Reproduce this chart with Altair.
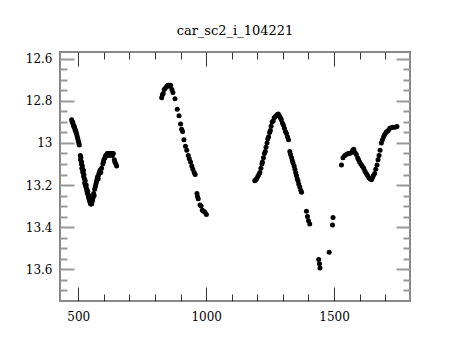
import altair as alt
import pandas as pd

# ---- data ----
seg1_t = [474, 476, 478, 480, 482, 484, 486, 488, 490, 492, 494, 496, 498, 500, 502, 504,
          508, 509, 510, 512, 513, 514, 516, 517, 518, 520, 521, 522, 524, 525, 527, 528,
          530, 531, 533, 534, 536, 537, 539, 540, 542, 543, 545, 546, 548, 550, 552, 554,
          556, 558, 560, 562, 564, 566, 568, 570, 572, 574, 576, 578, 580, 582, 585, 588,
          591, 596, 598, 600, 604, 607, 610, 613, 616, 620, 623, 626, 630, 633, 637, 641,
          643, 647, 650]
seg1_m = [12.89, 12.90, 12.90, 12.91, 12.92, 12.92, 12.93, 12.94, 12.94, 12.95, 12.96, 12.97, 12.98, 12.99, 13.00, 13.01,
          13.06, 13.08, 13.07, 13.10, 13.09, 13.12, 13.11, 13.13, 13.14, 13.13, 13.16, 13.15, 13.17, 13.19, 13.18, 13.20,
          13.21, 13.20, 13.22, 13.23, 13.24, 13.23, 13.25, 13.26, 13.25, 13.27, 13.28, 13.27, 13.29, 13.28, 13.29, 13.28,
          13.27, 13.26, 13.24, 13.25, 13.22, 13.21, 13.20, 13.19, 13.18, 13.17, 13.16, 13.17, 13.15, 13.14, 13.13, 13.14,
          13.12, 13.10, 13.09, 13.08, 13.07, 13.06, 13.06, 13.05, 13.05, 13.06, 13.05, 13.05, 13.05, 13.06, 13.05, 13.08,
          13.09, 13.10, 13.11]

seg2_t = [826, 829, 832, 836, 840, 846, 851, 856, 861, 866, 870, 878, 887, 894, 900, 904, 908,
          913, 919, 924, 930, 934, 939, 944, 948, 953, 957, 964, 966, 969, 976, 980, 985, 990,
          995, 1001]
seg2_m = [12.785, 12.77, 12.765, 12.745, 12.74, 12.73, 12.725, 12.73, 12.725, 12.745, 12.76, 12.79,
          12.84, 12.87, 12.91, 12.935, 12.945, 12.985, 13.015, 13.035, 13.06, 13.075, 13.09, 13.11,
          13.125, 13.14, 13.15, 13.24, 13.255, 13.265, 13.295, 13.30, 13.32, 13.325, 13.33, 13.34]

seg3_t = [1190, 1194, 1197, 1202, 1206, 1210, 1214, 1218, 1220, 1224, 1228, 1231, 1234, 1238,
          1241, 1244, 1248, 1251, 1254, 1258, 1262, 1266, 1270, 1274, 1278, 1282, 1286, 1290,
          1294, 1298, 1302, 1306, 1310, 1314, 1318, 1322,
          1327, 1330, 1334, 1337, 1340, 1344, 1347, 1350, 1353, 1356, 1359, 1362, 1366, 1370, 1373,
          1392, 1396, 1400, 1405, 1440, 1443, 1445, 1481, 1494, 1496]
seg3_m = [13.18, 13.175, 13.17, 13.16, 13.15, 13.14, 13.12, 13.10, 13.09, 13.07, 13.05, 13.04, 13.02, 13.00,
          12.98, 12.97, 12.95, 12.94, 12.92, 12.90, 12.895, 12.88, 12.875, 12.87, 12.865, 12.862, 12.87, 12.88,
          12.89, 12.905, 12.915, 12.93, 12.945, 12.955, 12.97, 12.985,
          13.04, 13.055, 13.07, 13.085, 13.095, 13.11, 13.125, 13.14, 13.155, 13.17, 13.18, 13.195, 13.21, 13.225, 13.235,
          13.325, 13.35, 13.37, 13.385, 13.555, 13.575, 13.595, 13.52, 13.39, 13.355]

seg4_t = [1529, 1535, 1542, 1548, 1555, 1561, 1568, 1573, 1577, 1582, 1587, 1592, 1596, 1600, 1605,
          1610, 1616, 1621, 1626, 1631, 1636, 1641, 1646, 1650, 1654, 1659, 1663, 1668, 1672, 1676,
          1680, 1685, 1689, 1694, 1698, 1703, 1707, 1712, 1718, 1724, 1730, 1738, 1746]
seg4_m = [13.105, 13.07, 13.06, 13.055, 13.05, 13.05, 13.045, 13.035, 13.03, 13.045, 13.055, 13.07, 13.08,
          13.09, 13.10, 13.11, 13.12, 13.135, 13.145, 13.155, 13.165, 13.17, 13.175, 13.165, 13.155, 13.145,
          13.125, 13.105, 13.08, 13.06, 13.035, 13.00, 12.985, 12.97, 12.96, 12.95, 12.945, 12.94, 12.93,
          12.927, 12.925, 12.925, 12.922]

x_labels = [500, 1000, 1500]
x_ticks = [500, 600, 700, 800, 900, 1000, 1100, 1200, 1300, 1400, 1500, 1600, 1700]
y_labels = [12.6, 12.8, 13.0, 13.2, 13.4, 13.6]
y_ticks = [12.6, 12.65, 12.7, 12.75, 12.8, 12.85, 12.9, 12.95, 13.0, 13.05, 13.1, 13.15,
           13.2, 13.25, 13.3, 13.35, 13.4, 13.45, 13.5, 13.55, 13.6, 13.65, 13.7]

df = pd.DataFrame({
    "t": seg1_t + seg2_t + seg3_t + seg4_t,
    "mag": seg1_m + seg2_m + seg3_m + seg4_m,
})

W, H = 350, 249
FONT = "DejaVu Serif"
xs = alt.Scale(domain=[428.5, 1797], nice=False, zero=False)
ys = alt.Scale(domain=[12.567, 13.752], nice=False, zero=False, reverse=True)

x_size = {"condition": {"test": "datum.value % 500 === 0", "value": 14}, "value": 7}
y_size = {"condition": {"test": "abs(datum.value*5 - round(datum.value*5)) < 0.001", "value": 14}, "value": 7}

def tick_axis(orient, offset, values, size, color, width):
    return alt.Axis(orient=orient, offset=offset, values=values, labels=False, domain=False,
                    grid=False, title=None, tickSize=size, tickColor=color, tickWidth=width)

base = alt.Chart(df)

points = base.mark_circle(size=25, color="black", opacity=1).encode(
    x=alt.X("t:Q", scale=xs, axis=alt.Axis(orient="bottom", values=x_labels, ticks=False, domain=False,
                                           grid=False, title=None, format="d", labelFont=FONT,
                                           labelFontSize=12, labelColor="black", labelPadding=10)),
    y=alt.Y("mag:Q", scale=ys, axis=alt.Axis(orient="left", values=y_labels, ticks=False, domain=False,
                                             grid=False, title=None, format="~g", labelFont=FONT,
                                             labelFontSize=12, labelColor="black", labelPadding=8)),
)

inner_a = base.mark_circle(opacity=0).encode(
    x=alt.X("t:Q", scale=xs, axis=tick_axis("top", -H, x_ticks, x_size, "#333333", 1)),
    y=alt.Y("mag:Q", scale=ys, axis=tick_axis("right", -W, y_ticks, y_size, "#999999", 2)),
)

inner_b = base.mark_circle(opacity=0).encode(
    x=alt.X("t:Q", scale=xs, axis=tick_axis("bottom", -H, x_ticks, x_size, "#333333", 1)),
    y=alt.Y("mag:Q", scale=ys, axis=tick_axis("left", -W, y_ticks, y_size, "#999999", 2)),
)

chart = alt.layer(points, inner_a, inner_b).resolve_scale(
    x="independent", y="independent"
).properties(
    width=W, height=H,
    title=alt.TitleParams("car_sc2_i_104221", font=FONT, fontSize=13, fontWeight="normal",
                          color="black", anchor="middle", offset=14),
    autosize=alt.AutoSizeParams(type="none"),
    padding={"left": 52, "top": 44, "right": 42, "bottom": 31},
).configure_view(stroke="#888888", strokeWidth=2)

chart.save("out.html", embed_options={"renderer": "svg", "actions": False})
